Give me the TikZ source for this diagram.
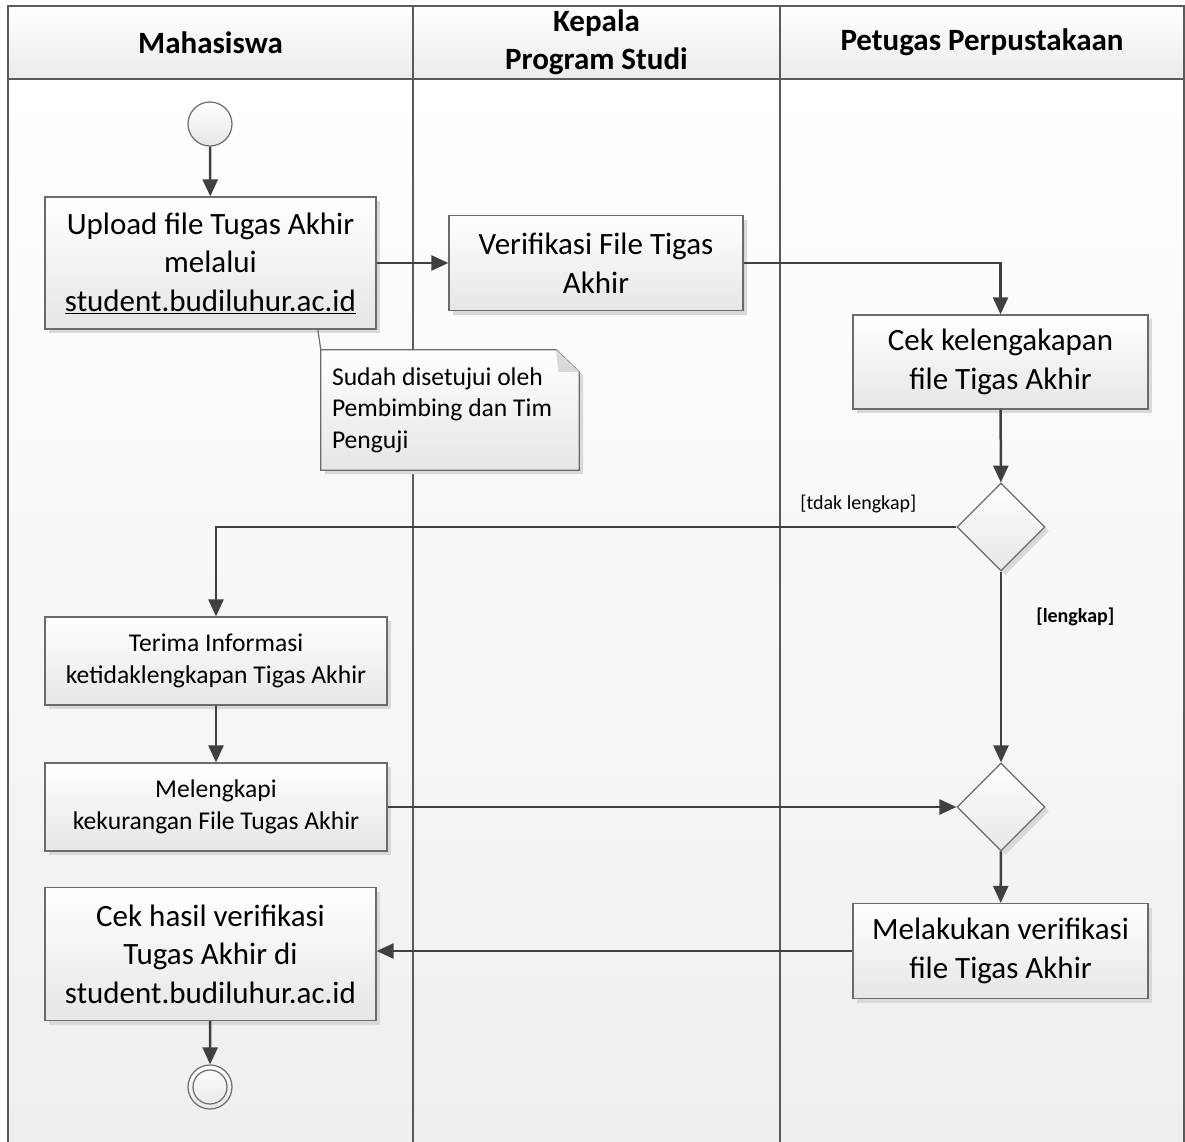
\documentclass[tikz,border=0pt]{standalone}
\usepackage{fontspec}
\setmainfont{Carlito}
\usetikzlibrary{arrows.meta,positioning,shapes.geometric,shadows}

\definecolor{lineclr}{HTML}{404040}
\definecolor{boxline}{HTML}{6B6B6B}
\definecolor{frameclr}{HTML}{5A5A5A}
\definecolor{boxbot}{HTML}{E6E6E6}
\definecolor{bgbot}{HTML}{EFEFEF}
\definecolor{shadowclr}{HTML}{D9D9D9}

\newcommand{\bigtxt}{\fontsize{31}{38.5}\selectfont}
\newcommand{\midtxt}{\fontsize{25.6}{31.5}\selectfont}
\newcommand{\lbltxt}{\fontsize{20}{24}\selectfont}

\tikzset{
  act/.style={draw=boxline, line width=1.2pt, top color=white, bottom color=boxbot,
    drop shadow={shadow xshift=4pt, shadow yshift=-4pt, fill=shadowclr, opacity=1},
    align=center, inner sep=0pt, font=\bigtxt},
  smallact/.style={act, font=\midtxt},
  decision/.style={diamond, draw=boxline, line width=1.2pt, top color=white, bottom color=boxbot,
    drop shadow={shadow xshift=4pt, shadow yshift=-4pt, fill=shadowclr, opacity=1},
    minimum width=88pt, minimum height=88pt, inner sep=0pt},
  initnode/.style={circle, draw=boxline, line width=1.2pt, top color=white, bottom color=boxbot,
    minimum size=44pt, inner sep=0pt},
  flow/.style={draw=lineclr, line width=2.5pt, -{Triangle[length=17pt,width=15pt]}},
  lanehead/.style={align=center, inner sep=0pt, font=\bigtxt\bfseries},
  guard/.style={inner sep=0pt, font=\lbltxt},
  notetxt/.style={align=flush left, inner xsep=11pt, inner ysep=0pt, text width=236pt,
    minimum height=120pt, font=\midtxt},
  noteshape/.style={draw=boxline, line width=1.2pt, top color=white, bottom color=boxbot,
    drop shadow={shadow xshift=4pt, shadow yshift=-4pt, fill=shadowclr, opacity=1}},
}

\begin{document}
\begin{tikzpicture}[x=1pt,y=-1pt]
\useasboundingbox (0,0) rectangle (1185,1142);

%Shape: Rectangle (lanes background)
\shade[top color=white, bottom color=bgbot] (8,79) rectangle (1184,1142);
\shade[top color=white, bottom color=boxbot!80] (8,6) rectangle (1184,79);
%Straight Lines (lane frame)
\draw[frameclr, line width=1.3pt] (8,1142) -- (8,6) -- (1184,6) -- (1184,1142);
\draw[frameclr, line width=1.3pt] (8,79) -- (1184,79);
\draw[frameclr, line width=1.3pt] (413,6) -- (413,1142);
\draw[frameclr, line width=1.3pt] (780,6) -- (780,1142);

% Text Node
\node[lanehead] (mhs) at (210.5,42.5) {Mahasiswa};
% Text Node
\node[lanehead] (kaprodi) at (596.5,42.5) {Kepala\\Program Studi};
% Text Node
\node[lanehead] (petugas) at (982,42.5) {Petugas Perpustakaan};

%Shape: Circle
\node[initnode] (start) at (210,124) {};
%Shape: Rectangle
\node[act, minimum width=331pt, minimum height=132pt] (upload) at (210.5,263)
  {Upload file Tugas Akhir\\melalui\\\underline{student.budiluhur.ac.id}};
%Shape: Rectangle
\node[act, minimum width=294pt, minimum height=95pt] (verif) at (596,263)
  {Verifikasi File Tigas\\Akhir};
%Shape: Rectangle
\node[act, minimum width=295pt, minimum height=94pt] (cek) at (1000.5,362)
  {Cek kelengakapan\\file Tigas Akhir};
%Shape: Diamond
\node[decision] (dec1) at (1001,527) {};
%Shape: Rectangle
\node[smallact, minimum width=342pt, minimum height=88pt] (terima) at (216,661)
  {Terima Informasi\\ketidaklengkapan Tigas Akhir};
%Shape: Rectangle
\node[smallact, minimum width=342pt, minimum height=88pt] (lengkapi) at (216,807)
  {Melengkapi\\kekurangan File Tugas Akhir};
%Shape: Diamond
\node[decision] (dec2) at (1001,807) {};
%Shape: Rectangle
\node[act, minimum width=295pt, minimum height=95pt] (lakukan) at (1000.5,951)
  {Melakukan verifikasi\\file Tigas Akhir};
%Shape: Rectangle
\node[act, minimum width=331pt, minimum height=133pt] (cekhasil) at (210.5,954)
  {Cek hasil verifikasi\\Tugas Akhir di\\student.budiluhur.ac.id};
%Shape: Circle
\node[initnode] (final) at (210,1087) {};
\draw[boxline, line width=1.2pt] (final.center) circle[radius=17];

%Shape: Note
\node[notetxt] (note) at (450,410) {};
\draw[noteshape] (note.south west) -- (note.north west) -- ([xshift=-23pt]note.north east)
  -- ([yshift=-22pt]note.north east) -- (note.south east) -- cycle;
\fill[shadowclr] ([xshift=-23pt]note.north east) -- ([yshift=-22pt]note.north east)
  -- ([xshift=-21pt,yshift=-22pt]note.north east) -- cycle;
% Text Node
\node[notetxt] (notetext) at (note.center) {Sudah disetujui oleh\\Pembimbing dan Tim\\Penguji};
%Straight Lines
\draw[boxline, line width=1.2pt] (note.north west) -- ([xshift=-3pt]note.north west |- upload.south);

%Straight Lines (flows)
\draw[flow] (start) -- (upload);
\draw[flow] (upload.east) -- (verif.west);
\draw[flow] (verif.east) -| (cek.north);
\draw[flow] (cek) -- (dec1);
\draw[flow] (dec1.west) -| (terima.north);
\node[guard, above left=14pt and 40pt of dec1.west] (tidak) {[tdak lengkap]};
\draw[flow] (dec1) -- node[guard, pos=0.235, right=34pt, font=\lbltxt\bfseries] (lengkap) {[lengkap]} (dec2);
\draw[flow] (terima) -- (lengkapi);
\draw[flow] (lengkapi.east) -- (dec2.west);
\draw[flow] (dec2) -- (lakukan);
\draw[flow] (lakukan.west) -- (cekhasil.east |- lakukan.west);
\draw[flow] (cekhasil) -- (final);
\end{tikzpicture}
\end{document}
